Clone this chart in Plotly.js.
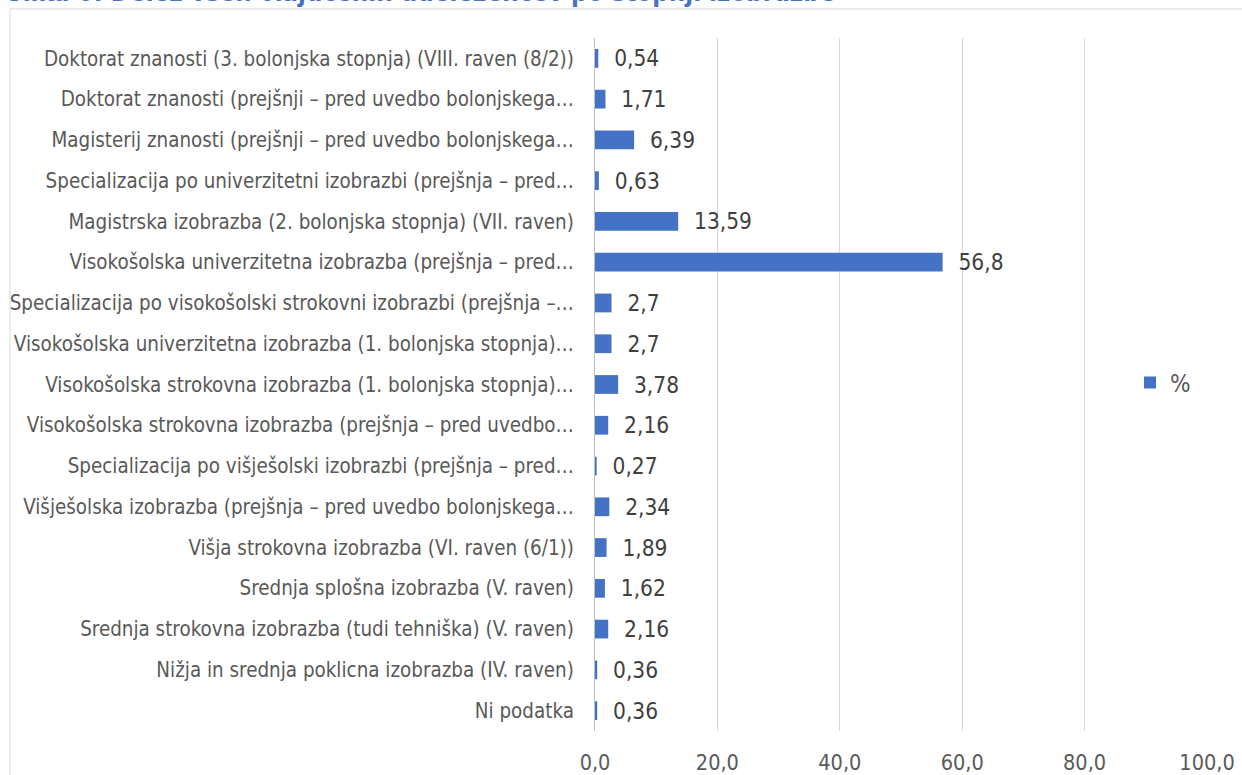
<!DOCTYPE html>
<html>
<head>
<meta charset="utf-8">
<script src="https://cdn.plot.ly/plotly-3.0.1.min.js"></script>
<style>html,body{margin:0;padding:0;background:#fff;}#chart{width:1242px;height:775px;}</style>
</head>
<body>
<div id="chart"></div>
<script>
const categories = [
  "Doktorat znanosti (3. bolonjska stopnja) (VIII. raven (8/2))",
  "Doktorat znanosti (prejšnji – pred uvedbo bolonjskega…",
  "Magisterij znanosti (prejšnji – pred uvedbo bolonjskega…",
  "Specializacija po univerzitetni izobrazbi (prejšnja – pred…",
  "Magistrska izobrazba (2. bolonjska stopnja) (VII. raven)",
  "Visokošolska univerzitetna izobrazba (prejšnja – pred…",
  "Specializacija po visokošolski strokovni izobrazbi (prejšnja –…",
  "Visokošolska univerzitetna izobrazba (1. bolonjska stopnja)…",
  "Visokošolska strokovna izobrazba (1. bolonjska stopnja)…",
  "Visokošolska strokovna izobrazba (prejšnja – pred uvedbo…",
  "Specializacija po višješolski izobrazbi (prejšnja – pred…",
  "Višješolska izobrazba (prejšnja – pred uvedbo bolonjskega…",
  "Višja strokovna izobrazba (VI. raven (6/1))",
  "Srednja splošna izobrazba (V. raven)",
  "Srednja strokovna izobrazba (tudi tehniška) (V. raven)",
  "Nižja in srednja poklicna izobrazba (IV. raven)",
  "Ni podatka"
];
const values = [0.54, 1.71, 6.39, 0.63, 13.59, 56.8, 2.7, 2.7, 3.78, 2.16, 0.27, 2.34, 1.89, 1.62, 2.16, 0.36, 0.36];
const seriesName = "%";
const titleText = "Slika 6: Delež vseh vključenih udeležencev po stopnji izobrazbe";
const xTicks = [0, 20, 40, 60, 80, 100];
const xTickLabels = ["0,0", "20,0", "40,0", "60,0", "80,0", "100,0"];

const fontFam = "DejaVu Sans Condensed, DejaVu Sans, sans-serif";
const labels = values.map(v => "\u00A0\u00A0" + String(v).replace(".", ","));

const trace = {
  type: "bar",
  orientation: "h",
  x: values,
  y: categories,
  name: seriesName,
  marker: {color: "#4472C4"},
  text: labels,
  textposition: "outside",
  constraintext: "none",
  cliponaxis: false,
  textfont: {family: fontFam, size: 22.5, color: "#404040"},
  hoverinfo: "none"
};

const L = 595, R = 1207, T = 38, B = 731, W = 1242, H = 775;
const pw = R - L, ph = B - T;
const px = x => (x - L) / pw;
const py = y => (B - y) / ph;

const layout = {
  width: W, height: H,
  margin: {l: L, r: W - R, t: T, b: H - B, pad: 0},
  paper_bgcolor: "#ffffff",
  plot_bgcolor: "#ffffff",
  bargap: 0.54,
  showlegend: true,
  legend: {
    x: px(1130), y: py(383), xanchor: "left", yanchor: "middle",
    font: {family: fontFam, size: 24, color: "#595959"},
    bgcolor: "rgba(0,0,0,0)"
  },
  xaxis: {
    range: [0, 100],
    tickvals: xTicks,
    ticktext: xTickLabels,
    showgrid: true,
    gridcolor: "#d9d9d9",
    gridwidth: 1,
    zeroline: false,
    showline: false,
    ticks: "outside",
    ticklen: 12,
    tickcolor: "rgba(0,0,0,0)",
    tickfont: {family: fontFam, size: 21.5, color: "#595959"},
    fixedrange: true
  },
  yaxis: {
    type: "category",
    autorange: "reversed",
    showline: true,
    linecolor: "#bfbfbf",
    linewidth: 1,
    showgrid: false,
    zeroline: false,
    ticks: "outside",
    ticklen: 16,
    tickcolor: "rgba(0,0,0,0)",
    tickfont: {family: fontFam, size: 20.4, color: "#595959"},
    automargin: false,
    fixedrange: true
  },
  shapes: [{
    type: "rect", xref: "paper", yref: "paper",
    x0: px(10), x1: px(1260), y0: py(790), y1: py(9),
    line: {color: "#d9d9d9", width: 1},
    fillcolor: "rgba(0,0,0,0)",
    layer: "below"
  }],
  annotations: [{
    xref: "paper", yref: "paper",
    x: px(4), y: py(-8), xanchor: "left", yanchor: "middle",
    text: "<b>" + titleText + "</b>",
    showarrow: false,
    font: {family: fontFam, size: 25.7, color: "#4472C4"}
  }]
};

Plotly.newPlot("chart", [trace], layout, {displayModeBar: false, staticPlot: true});
</script>
</body>
</html>
